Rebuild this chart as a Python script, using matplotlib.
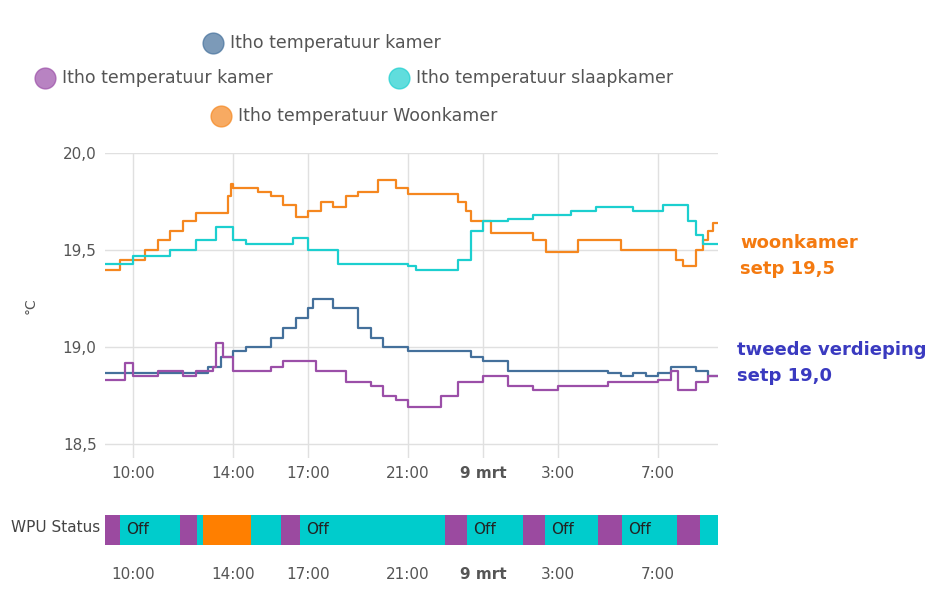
import matplotlib
matplotlib.use("Agg")
import matplotlib.pyplot as plt
from matplotlib.lines import Line2D

# hours since 8 March 00:00
orange_t = [8.9, 9.5, 10.5, 11, 11.5, 12, 12.5, 13.8, 13.9, 14, 15, 15.5, 16, 16.5, 17, 17.5, 18, 18.5, 19, 19.8, 20.5, 21, 22.5, 23, 23.3, 23.5, 24.3, 25, 26, 26.5, 27.8, 29, 29.5, 31.5, 31.7, 32, 32.5, 32.8, 33, 33.2, 33.4]
orange_v = [19.40, 19.45, 19.50, 19.55, 19.60, 19.65, 19.69, 19.78, 19.84, 19.82, 19.80, 19.78, 19.73, 19.67, 19.70, 19.75, 19.72, 19.78, 19.80, 19.86, 19.82, 19.79, 19.79, 19.75, 19.70, 19.65, 19.59, 19.59, 19.55, 19.49, 19.55, 19.55, 19.50, 19.50, 19.45, 19.42, 19.50, 19.55, 19.60, 19.64, 19.64]
cyan_t = [8.9, 9.7, 10, 11.5, 12.5, 13.3, 14, 14.5, 16.2, 16.4, 17, 18.2, 20.5, 21, 21.3, 22.8, 23, 23.5, 24, 25, 26, 27.5, 28.5, 30, 31.2, 32.2, 32.5, 32.8, 33.4]
cyan_v = [19.43, 19.43, 19.47, 19.50, 19.55, 19.62, 19.55, 19.53, 19.53, 19.56, 19.50, 19.43, 19.43, 19.42, 19.40, 19.40, 19.45, 19.60, 19.65, 19.66, 19.68, 19.70, 19.72, 19.70, 19.73, 19.65, 19.58, 19.53, 19.53]
blue_t = [8.9, 12.5, 13, 13.5, 14, 14.5, 15.5, 16, 16.5, 17, 17.2, 18, 19, 19.5, 20, 21, 23, 23.5, 24, 25, 29, 29.5, 30, 30.5, 31, 31.5, 32.5, 33, 33.4]
blue_v = [18.87, 18.87, 18.90, 18.95, 18.98, 19.00, 19.05, 19.10, 19.15, 19.20, 19.25, 19.20, 19.10, 19.05, 19.00, 18.98, 18.98, 18.95, 18.93, 18.88, 18.87, 18.85, 18.87, 18.85, 18.87, 18.90, 18.88, 18.85, 18.85]
purple_t = [8.9, 9.5, 9.7, 10, 11, 12, 12.5, 13.2, 13.3, 13.6, 14, 15.5, 16, 17.3, 18.5, 19.5, 20, 20.5, 21, 22, 22.3, 23, 24, 25, 26, 27, 29, 31, 31.5, 31.8, 32.5, 33, 33.4]
purple_v = [18.83, 18.83, 18.92, 18.85, 18.88, 18.85, 18.88, 18.90, 19.02, 18.95, 18.88, 18.90, 18.93, 18.88, 18.82, 18.80, 18.75, 18.73, 18.69, 18.69, 18.75, 18.82, 18.85, 18.80, 18.78, 18.80, 18.82, 18.83, 18.88, 18.78, 18.82, 18.85, 18.85]

status_start = [8.88, 9.48, 11.88, 12.56, 12.8, 14.72, 15.92, 16.68, 22.48, 23.36, 25.6, 26.48, 28.6, 29.56, 31.76, 32.68, 33.4]
status_state = ["On", "Off", "On", "Idle", "Heat", "Idle", "On", "Off", "On", "Off", "On", "Off", "On", "Off", "On", "Idle"]

tick_hours = [10, 14, 17, 21, 24, 27, 31]
tick_labels = ["10:00", "14:00", "17:00", "21:00", "9 mrt", "3:00", "7:00"]

C_BLUE, C_PURPLE, C_CYAN, C_ORANGE = "#44709b", "#9b4fa8", "#1ccfcf", "#f5871f"
state_col = {"On": "#9b4aa0", "Off": "#00cccc", "Idle": "#00cccc", "Heat": "#ff7f00"}

fig = plt.figure(figsize=(9.46, 6.15), dpi=100)
ax = fig.add_axes([105/946, 1-458/615, 613/946, 305/615])
for t, v, c in [(orange_t, orange_v, C_ORANGE), (cyan_t, cyan_v, C_CYAN), (blue_t, blue_v, C_BLUE), (purple_t, purple_v, C_PURPLE)]:
    ax.step(t, v, where="post", color=c, lw=1.6)
ax.set_xlim(8.88, 33.4)
ax.set_ylim(18.43, 20.0)
ax.set_yticks([18.5, 19.0, 19.5, 20.0])
ax.set_yticklabels(["18,5", "19,0", "19,5", "20,0"])
ax.set_xticks(tick_hours)
ax.set_xticklabels(tick_labels)
for lab in ax.get_xticklabels():
    if lab.get_text() == "9 mrt":
        lab.set_fontweight("bold")
ax.grid(True, color="#e0e0e0", lw=1)
ax.tick_params(length=0, colors="#555555", labelsize=11, pad=6)
for s in ax.spines.values():
    s.set_visible(False)
ax.set_ylabel("°C", color="#555555", fontsize=10, labelpad=18)

sx = fig.add_axes([105/946, 1-545/615, 613/946, 30/615])
for i, st in enumerate(status_state):
    a, b = status_start[i], status_start[i+1]
    sx.axvspan(a, b, color=state_col[st], lw=0)
    if st == "Off":
        sx.text(a + 0.25, 0.5, "Off", va="center", ha="left", fontsize=11, color="#222222")
sx.set_xlim(8.88, 33.4)
sx.set_ylim(0, 1)
sx.set_yticks([])
sx.set_xticks(tick_hours)
sx.set_xticklabels(tick_labels)
for lab in sx.get_xticklabels():
    if lab.get_text() == "9 mrt":
        lab.set_fontweight("bold")
sx.tick_params(length=0, colors="#555555", labelsize=11, pad=16)
for s in sx.spines.values():
    s.set_visible(False)
fig.text(100/946, 1-528/615, "WPU Status", ha="right", va="center", fontsize=11, color="#444444")

def leg(x, y, c, label):
    fig.add_artist(Line2D([x/946], [1-y/615], marker="o", markersize=15, color=c, alpha=0.7,
                          markeredgecolor=c, transform=fig.transFigure))
    fig.text((x+17)/946, 1-y/615, label, va="center", fontsize=12.5, color="#555555")

leg(213, 43, C_BLUE, "Itho temperatuur kamer")
leg(45, 78, C_PURPLE, "Itho temperatuur kamer")
leg(399, 78, C_CYAN, "Itho temperatuur slaapkamer")
leg(221, 116, C_ORANGE, "Itho temperatuur Woonkamer")

fig.text(740/946, 1-256/615, "woonkamer\nsetp 19,5", color="#f47a10", fontsize=13, fontweight="bold", va="center", linespacing=1.6)
fig.text(737/946, 1-363/615, "tweede verdieping\nsetp 19,0", color="#3a3ac0", fontsize=13, fontweight="bold", va="center", linespacing=1.6)

fig.savefig("out.png", dpi=100)
